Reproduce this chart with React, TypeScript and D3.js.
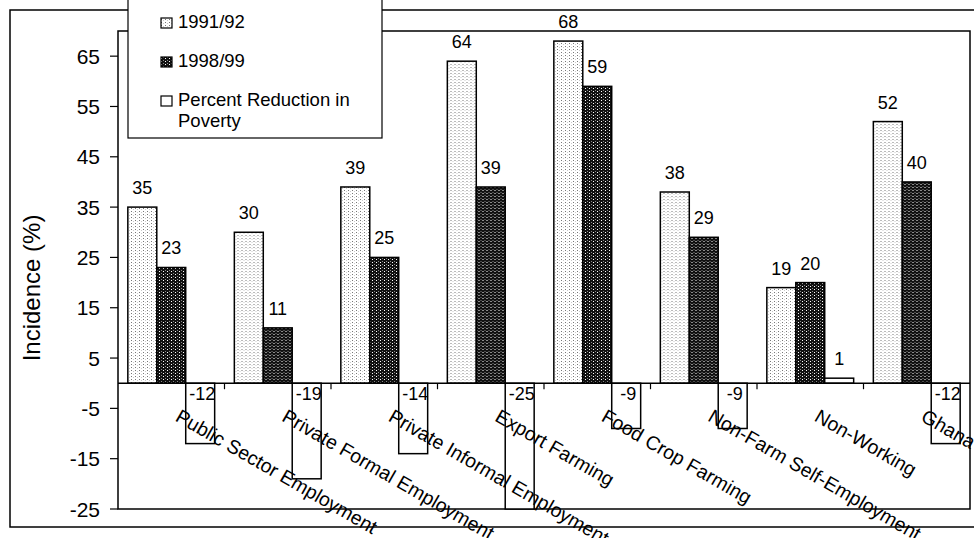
import React, { useEffect, useRef } from "react";
import * as d3 from "d3";

const categories = [
  "Public Sector Employment",
  "Private Formal Employment",
  "Private Informal Employment",
  "Export Farming",
  "Food Crop Farming",
  "Non-Farm Self-Employment",
  "Non-Working",
  "Ghana",
];
const series = ["1991/92", "1998/99", "Percent Reduction in Poverty"];
const incidence9192 = [35, 30, 39, 64, 68, 38, 19, 52];
const incidence9899 = [23, 11, 25, 39, 59, 29, 20, 40];
const reduction = [-12, -19, -14, -25, -9, -9, 1, -12];
const yTicks = [-25, -15, -5, 5, 15, 25, 35, 45, 55, 65];

const W = 974;
const H = 538;
const FONT = "'Liberation Sans', Arial, sans-serif";

const App: React.FC = () => {
  const svgRef = useRef<SVGSVGElement>(null);

  useEffect(() => {
    const svg = d3.select(svgRef.current);
    svg.selectAll("*").remove();

    const left = 118;
    const right = 970;
    const top = 31;
    const bottom = 509;

    const defs = svg.append("defs");
    const light = defs
      .append("pattern")
      .attr("id", "pLight")
      .attr("patternUnits", "userSpaceOnUse")
      .attr("width", 4)
      .attr("height", 3);
    light.append("rect").attr("width", 4).attr("height", 3).attr("fill", "#fff");
    light.append("rect").attr("x", 1).attr("y", 1).attr("width", 1).attr("height", 1).attr("fill", "#777");
    light.append("rect").attr("x", 3).attr("y", 2).attr("width", 1).attr("height", 1).attr("fill", "#ccc");

    const dark = defs
      .append("pattern")
      .attr("id", "pDark")
      .attr("patternUnits", "userSpaceOnUse")
      .attr("width", 4)
      .attr("height", 3);
    dark.append("rect").attr("width", 4).attr("height", 3).attr("fill", "#111");
    dark.append("rect").attr("x", 1).attr("y", 1).attr("width", 1).attr("height", 1).attr("fill", "#fff");
    dark.append("rect").attr("x", 3).attr("y", 0).attr("width", 1).attr("height", 1).attr("fill", "#888");

    const fills = ["url(#pLight)", "url(#pDark)", "#fff"];

    // outer frame
    svg
      .append("rect")
      .attr("x", 10)
      .attr("y", 10)
      .attr("width", 990)
      .attr("height", 517)
      .attr("fill", "#fff")
      .attr("stroke", "#000")
      .attr("stroke-width", 1.5);

    const x0 = d3.scaleBand<string>().domain(categories).range([left, right]);
    const x1 = d3
      .scaleBand<string>()
      .domain(series)
      .range([0, x0.bandwidth()])
      .paddingOuter(0.34);
    const y = d3.scaleLinear().domain([-25, 70]).range([bottom, top]);

    // plot area
    svg
      .append("rect")
      .attr("x", left)
      .attr("y", top)
      .attr("width", right - left)
      .attr("height", bottom - top)
      .attr("fill", "#fff")
      .attr("stroke", "#000")
      .attr("stroke-width", 1.5);

    // y axis
    const yAxis = svg.append("g");
    yTicks.forEach((t) => {
      yAxis
        .append("line")
        .attr("x1", left - 8)
        .attr("x2", left)
        .attr("y1", y(t))
        .attr("y2", y(t))
        .attr("stroke", "#000")
        .attr("stroke-width", 1.2);
      yAxis
        .append("text")
        .attr("x", 100)
        .attr("y", y(t) + 7.5)
        .attr("text-anchor", "end")
        .attr("font-size", 21)
        .attr("font-family", FONT)
        .text(t);
    });

    svg
      .append("text")
      .attr("transform", `translate(40,${(top + bottom) / 2 + 18}) rotate(-90)`)
      .attr("text-anchor", "middle")
      .attr("font-size", 24)
      .attr("font-family", FONT)
      .text("Incidence (%)");

    const rows = categories.map((c, i) => ({
      cat: c,
      vals: [incidence9192[i], incidence9899[i], reduction[i]],
    }));

    const groups = svg
      .append("g")
      .selectAll("g")
      .data(rows)
      .join("g")
      .attr("transform", (d) => `translate(${x0(d.cat)},0)`);

    groups
      .selectAll("rect")
      .data((d) => d.vals.map((v, k) => ({ v, s: series[k], k })))
      .join("rect")
      .attr("x", (d) => x1(d.s)!)
      .attr("width", x1.bandwidth())
      .attr("y", (d) => y(Math.max(0, d.v)))
      .attr("height", (d) => Math.abs(y(d.v) - y(0)))
      .attr("fill", (d) => fills[d.k])
      .attr("stroke", "#000")
      .attr("stroke-width", 1.5);

    groups
      .selectAll("text")
      .data((d) => d.vals.map((v, k) => ({ v, s: series[k], k })))
      .join("text")
      .attr("x", (d) => x1(d.s)! + x1.bandwidth() / 2 + (d.v < 0 ? 2 : 0))
      .attr("y", (d) => (d.v < 0 ? y(0) + 17 : y(d.v) - 13))
      .attr("text-anchor", "middle")
      .attr("font-size", 18)
      .attr("font-family", FONT)
      .text((d) => d.v);

    // zero line with category ticks
    svg
      .append("line")
      .attr("x1", left)
      .attr("x2", right)
      .attr("y1", y(0))
      .attr("y2", y(0))
      .attr("stroke", "#000")
      .attr("stroke-width", 1.5);
    categories.forEach((c, i) => {
      if (i === 0) return;
      svg
        .append("line")
        .attr("x1", x0(c)!)
        .attr("x2", x0(c)!)
        .attr("y1", y(0))
        .attr("y2", y(0) + 6)
        .attr("stroke", "#000")
        .attr("stroke-width", 1.2);
    });

    // category labels
    svg
      .append("g")
      .selectAll("text")
      .data(categories)
      .join("text")
      .attr(
        "transform",
        (d) => `translate(${x0(d)! + x0.bandwidth() / 2 + 3},${y(0) + 37}) rotate(30)`
      )
      .attr("font-size", 19.5)
      .attr("font-family", FONT)
      .text((d) => d);

    // legend
    const lg = svg.append("g");
    lg.append("rect")
      .attr("x", 128)
      .attr("y", -5)
      .attr("width", 254)
      .attr("height", 143)
      .attr("fill", "#fff")
      .attr("stroke", "#000")
      .attr("stroke-width", 1.2);
    const legendRows = [
      { lines: [series[0]], y: 28, fill: fills[0] },
      { lines: [series[1]], y: 67, fill: fills[1] },
      { lines: ["Percent Reduction in", "Poverty"], y: 106, fill: fills[2] },
    ];
    legendRows.forEach((r) => {
      lg.append("rect")
        .attr("x", 161)
        .attr("y", r.y - 10)
        .attr("width", 11)
        .attr("height", 10)
        .attr("fill", r.fill)
        .attr("stroke", "#000")
        .attr("stroke-width", 1.2);
      r.lines.forEach((l, j) => {
        lg.append("text")
          .attr("x", 178)
          .attr("y", r.y + j * 21)
          .attr("font-size", 18.5)
          .attr("font-family", FONT)
          .text(l);
      });
    });
  }, []);

  return (
    <div style={{ position: "absolute", left: 0, top: 0 }}>
      <svg ref={svgRef} width={W} height={H} style={{ display: "block" }} />
    </div>
  );
};

export default App;
